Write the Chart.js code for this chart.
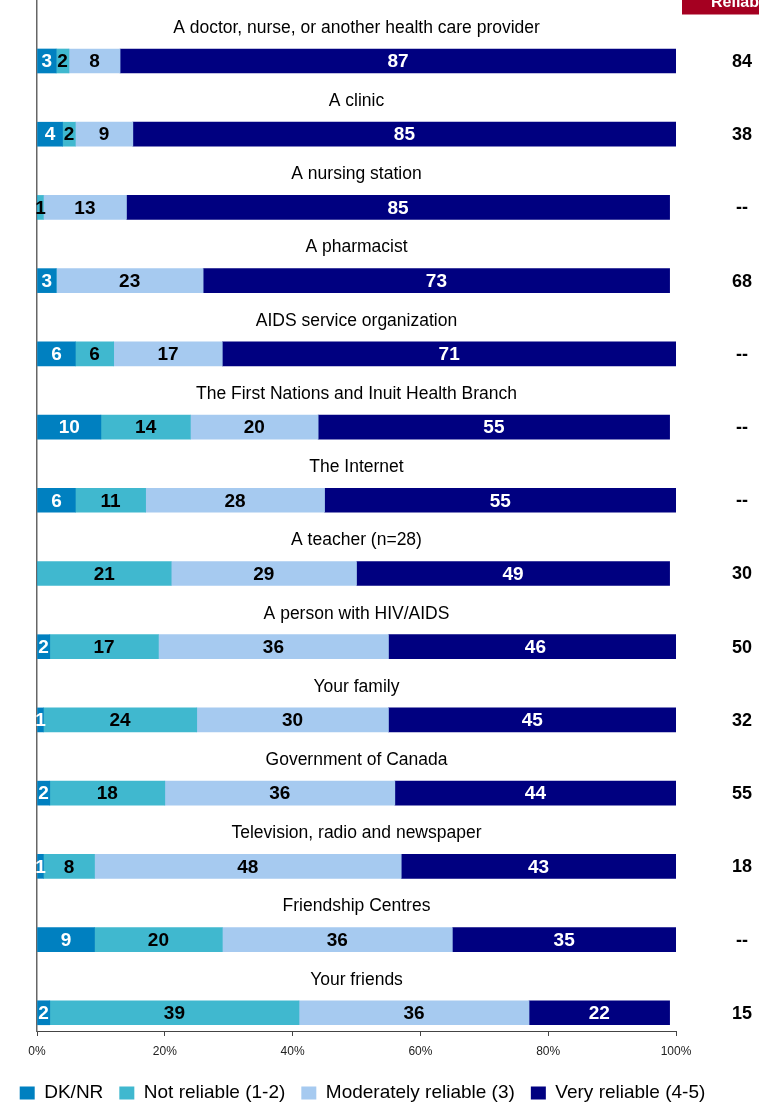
<!DOCTYPE html>
<html>
<head>
<meta charset="utf-8">
<script src="https://cdn.jsdelivr.net/npm/chart.js@4/dist/chart.umd.min.js"></script>
<style>
  html, body { margin: 0; padding: 0; background: #fff; }
  #wrap { width: 759px; height: 1105px; position: relative; }
</style>
</head>
<body>
<div id="wrap"><canvas id="c" width="759" height="1105"></canvas></div>
<script>
// Sources of information, rated for reliability (% of respondents)
const categories = [
  'A doctor, nurse, or another health care provider',
  'A clinic',
  'A nursing station',
  'A pharmacist',
  'AIDS service organization',
  'The First Nations and Inuit Health Branch',
  'The Internet',
  'A teacher (n=28)',
  'A person with HIV/AIDS',
  'Your family',
  'Government of Canada',
  'Television, radio and newspaper',
  'Friendship Centres',
  'Your friends'
];
const dkNr         = [3, 4, 0, 3, 6, 10, 6, 0, 2, 1, 2, 1, 9, 2];
const notReliable  = [2, 2, 1, 0, 6, 14, 11, 21, 17, 24, 18, 8, 20, 39];
const moderately   = [8, 9, 13, 23, 17, 20, 28, 29, 36, 30, 36, 48, 36, 36];
const veryReliable = [87, 85, 85, 73, 71, 55, 55, 49, 46, 45, 44, 43, 35, 22];
// Side column: earlier "reliable" share, "--" where not asked
const reliableEarlier = ['84', '38', '--', '68', '--', '--', '--', '30', '50', '32', '55', '18', '--', '15'];
const seriesNames = ['DK/NR', 'Not reliable (1-2)', 'Moderately reliable (3)', 'Very reliable (4-5)'];
const seriesColors = ['#0080C0', '#40B8CF', '#A6CAF0', '#000080'];
const seriesLabelColors = ['#FFFFFF', '#000000', '#000000', '#FFFFFF'];
const xTickStep = 20;
const xMax = 100;
const sideHeader = 'Reliable';

const SANS = "'Liberation Sans', Arial, sans-serif";

const seriesValues = [dkNr, notReliable, moderately, veryReliable];
const datasets = seriesValues.map((vals, s) => ({
  label: seriesNames[s],
  data: vals.map((v, i) => ({ x: v, y: i })),
  backgroundColor: seriesColors[s],
  borderWidth: 0,
  barThickness: 24
}));

// Value labels inside segments, titles above bars, side column and its header
const overlay = {
  id: 'overlay',
  beforeInit(chart) {
    const legend = chart.legend;
    if (legend) {
      const fit = legend.fit;
      legend.fit = function () { fit.call(this); this.height = 37.5; };
    }
  },
  afterDatasetsDraw(chart) {
    const ctx = chart.ctx;
    ctx.save();
    ctx.textAlign = 'center';
    ctx.textBaseline = 'middle';
    ctx.font = 'bold 19px ' + SANS;
    chart.data.datasets.forEach((ds, di) => {
      const meta = chart.getDatasetMeta(di);
      meta.data.forEach((bar, i) => {
        const v = ds.data[i].x;
        if (!v) return;
        const p = bar.getProps(['x', 'y', 'base'], true);
        ctx.fillStyle = seriesLabelColors[di];
        ctx.fillText(String(v), (p.x + p.base) / 2, p.y + 1);
      });
    });
    ctx.restore();
  },
  afterDraw(chart) {
    const ctx = chart.ctx;
    const area = chart.chartArea;
    const yScale = chart.scales.y;
    ctx.save();
    ctx.textAlign = 'center';
    ctx.textBaseline = 'middle';
    ctx.fillStyle = '#000';
    ctx.font = '17.5px ' + SANS;
    const cx = (area.left + area.right) / 2;
    categories.forEach((c, i) => {
      ctx.fillText(c, cx, yScale.getPixelForValue(i) - 33);
    });
    ctx.font = 'bold 18px ' + SANS;
    reliableEarlier.forEach((t, i) => {
      ctx.fillText(t, 742, yScale.getPixelForValue(i) + 1);
    });
    // header tab at the top right
    ctx.fillStyle = '#A50021';
    ctx.fillRect(682, 0, 77, 14.5);
    ctx.fillStyle = '#FFFFFF';
    ctx.textAlign = 'left';
    ctx.textBaseline = 'alphabetic';
    ctx.font = 'bold 16px ' + SANS;
    ctx.fillText(sideHeader, 711, 7);
    ctx.restore();
  }
};

new Chart(document.getElementById('c'), {
  type: 'bar',
  data: { datasets },
  plugins: [overlay],
  options: {
    indexAxis: 'y',
    responsive: false,
    animation: false,
    devicePixelRatio: 1,
    layout: { padding: { left: 0, right: 34, top: 0, bottom: 0 } },
    scales: {
      x: {
        type: 'linear',
        stacked: true,
        min: 0,
        max: xMax,
        afterFit(s) { s.height = 36.5; },
        ticks: {
          stepSize: xTickStep,
          callback: v => v + '%',
          font: { family: SANS, size: 12 },
          color: '#222',
          padding: 8,
          maxRotation: 0
        },
        grid: { drawOnChartArea: false, drawTicks: true, tickLength: 5, color: '#444', lineWidth: 1 },
        border: { display: true, color: '#444', width: 1 }
      },
      y: {
        type: 'linear',
        stacked: true,
        reverse: true,
        offset: false,
        min: -0.833,
        max: 13.249,
        position: 'left',
        afterFit(s) { s.width = 37; },
        ticks: { display: false },
        grid: { display: false, offset: false },
        border: { display: true, color: '#666', width: 1.5 }
      },
      yRight: {
        type: 'linear',
        position: 'right',
        offset: false,
        afterFit(s) { s.width = 49; },
        ticks: { display: false },
        grid: { display: false },
        border: { display: false }
      }
    },
    plugins: {
      tooltip: { enabled: false },
      legend: {
        position: 'bottom',
        labels: {
          boxWidth: 15,
          boxHeight: 13,
          padding: 16,
          color: '#000',
          font: { family: SANS, size: 19 }
        }
      }
    }
  }
});
</script>
</body>
</html>
